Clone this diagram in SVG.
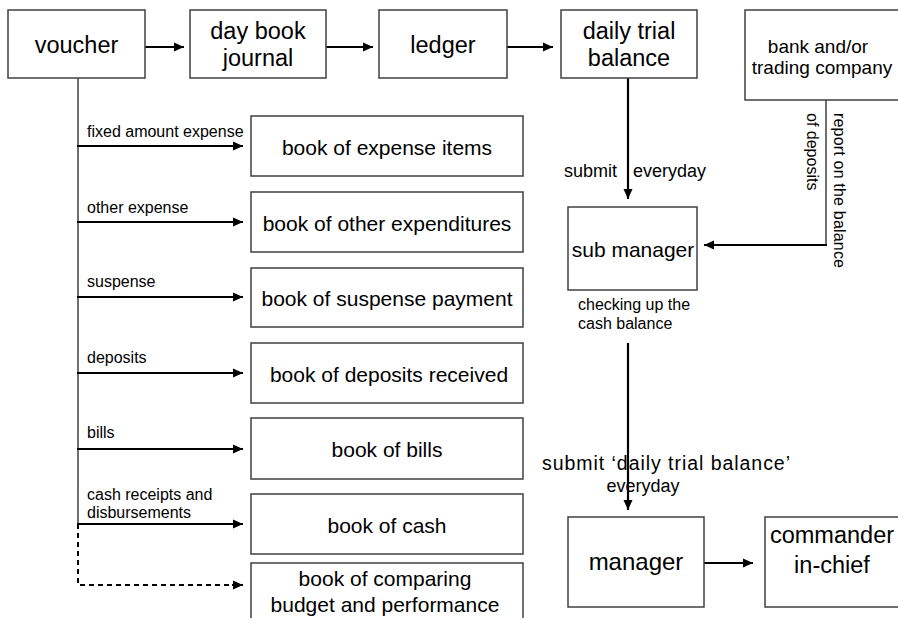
<svg xmlns="http://www.w3.org/2000/svg" width="898" height="618" viewBox="0 0 898 618">
<defs>
<style>
text{font-family:"Liberation Sans",Arial,sans-serif;fill:#000}
.box{fill:#fff;stroke:#404040;stroke-width:1.5}
.t1{font-size:23.5px;text-anchor:middle}
.tb{font-size:21px;text-anchor:middle}
.lb{font-size:16px}
.ln{fill:none;stroke:#000;stroke-width:2.2}
.thin{fill:none;stroke:#404040;stroke-width:1.5}
.dash{fill:none;stroke:#000;stroke-width:2;stroke-dasharray:5,4}
</style>
<marker id="ah" markerWidth="12" markerHeight="10" refX="10" refY="5" orient="auto" markerUnits="userSpaceOnUse"><path d="M0,0.5 L10,5 L0,9.5 z" fill="#000"/></marker>
</defs>
<rect width="898" height="618" fill="#fff"/>
<g id="connectors">
<line class="ln" x1="145" y1="47" x2="184" y2="47" marker-end="url(#ah)"/>
<line class="ln" x1="326" y1="47" x2="373" y2="47" marker-end="url(#ah)"/>
<line class="ln" x1="507" y1="47" x2="553" y2="47" marker-end="url(#ah)"/>
<line class="thin" x1="78" y1="78" x2="78" y2="524"/>
<line class="ln" x1="77" y1="146" x2="243" y2="146" marker-end="url(#ah)"/>
<line class="ln" x1="77" y1="222" x2="243" y2="222" marker-end="url(#ah)"/>
<line class="ln" x1="77" y1="297" x2="243" y2="297" marker-end="url(#ah)"/>
<line class="ln" x1="77" y1="373" x2="243" y2="373" marker-end="url(#ah)"/>
<line class="ln" x1="77" y1="449" x2="243" y2="449" marker-end="url(#ah)"/>
<line class="ln" x1="77" y1="524" x2="243" y2="524" marker-end="url(#ah)"/>
<path class="dash" d="M78,524 V585 H233"/>
<line x1="232" y1="585" x2="243" y2="585" stroke="#000" stroke-width="2" marker-end="url(#ah)"/>
<line class="ln" x1="628" y1="78" x2="628" y2="199" marker-end="url(#ah)"/>
<path class="thin" d="M826,100 V245" stroke="#000"/>
<line class="ln" x1="827" y1="245" x2="704" y2="245" marker-end="url(#ah)"/>
<line class="ln" x1="628" y1="343" x2="628" y2="510" marker-end="url(#ah)"/>
<line class="ln" x1="704" y1="563" x2="753" y2="563" marker-end="url(#ah)"/>
<text class="lb" x="87" y="137">fixed amount expense</text>
<text class="lb" x="87" y="213">other expense</text>
<text class="lb" x="87" y="287">suspense</text>
<text class="lb" x="87" y="363">deposits</text>
<text class="lb" x="87" y="438">bills</text>
<text class="lb" x="87" y="500">cash receipts and</text>
<text class="lb" x="87" y="518">disbursements</text>
<text x="617" y="177" font-size="18" text-anchor="end">submit</text>
<text x="633" y="177" font-size="18">everyday</text>
<text class="lb" x="578" y="310">checking up the</text>
<text class="lb" x="578" y="329">cash balance</text>
<text x="542" y="470" font-size="19.5" textLength="248" lengthAdjust="spacing">submit ‘daily trial balance’</text>
<text x="643" y="492" font-size="18" text-anchor="middle">everyday</text>
<text transform="translate(834,113) rotate(90)" font-size="16" textLength="155" lengthAdjust="spacing">report on the balance</text>
<text transform="translate(807,113) rotate(90)" font-size="16">of deposits</text>
</g>
<g id="voucher"><rect class="box" x="8" y="10" width="137" height="68"/><text class="t1" x="76.5" y="53">voucher</text></g>
<g id="daybook"><rect class="box" x="190" y="10" width="136" height="68"/><text class="t1" x="258" y="39">day book</text><text class="t1" x="258" y="66">journal</text></g>
<g id="ledger"><rect class="box" x="379" y="10" width="128" height="68"/><text class="t1" x="443" y="53">ledger</text></g>
<g id="dailytrial"><rect class="box" x="561" y="10" width="136" height="68"/><text class="t1" x="629" y="39">daily trial</text><text class="t1" x="629" y="66">balance</text></g>
<g id="bank"><rect class="box" x="745" y="10" width="160" height="90"/><text x="818" y="53" font-size="19" text-anchor="middle">bank and/or</text><text x="822" y="74" font-size="19" text-anchor="middle">trading company</text></g>
<g id="expense"><rect class="box" x="251" y="116" width="272" height="60"/><text class="tb" x="387" y="155">book of expense items</text></g>
<g id="other"><rect class="box" x="251" y="192" width="272" height="60"/><text class="tb" x="387" y="231">book of other expenditures</text></g>
<g id="suspense"><rect class="box" x="251" y="268" width="272" height="59"/><text class="tb" x="387" y="306">book of suspense payment</text></g>
<g id="deposits"><rect class="box" x="251" y="343" width="272" height="60"/><text class="tb" x="389" y="382">book of deposits received</text></g>
<g id="bills"><rect class="box" x="251" y="418" width="272" height="61"/><text class="tb" x="387" y="457">book of bills</text></g>
<g id="cash"><rect class="box" x="251" y="494" width="272" height="60"/><text class="tb" x="387" y="533">book of cash</text></g>
<g id="comparing"><rect class="box" x="251" y="563" width="272" height="70"/><text class="tb" x="385" y="586">book of comparing</text><text class="tb" x="385" y="612">budget and performance</text></g>
<g id="submanager"><rect class="box" x="568" y="207" width="129" height="83"/><text x="633" y="257" font-size="21" text-anchor="middle">sub manager</text></g>
<g id="manager"><rect class="box" x="568" y="517" width="136" height="90"/><text x="636" y="570" font-size="24" text-anchor="middle">manager</text></g>
<g id="commander"><rect class="box" x="765" y="517" width="140" height="90"/><text class="t1" x="832" y="543">commander</text><text class="t1" x="832" y="573">in-chief</text></g>
</svg>
